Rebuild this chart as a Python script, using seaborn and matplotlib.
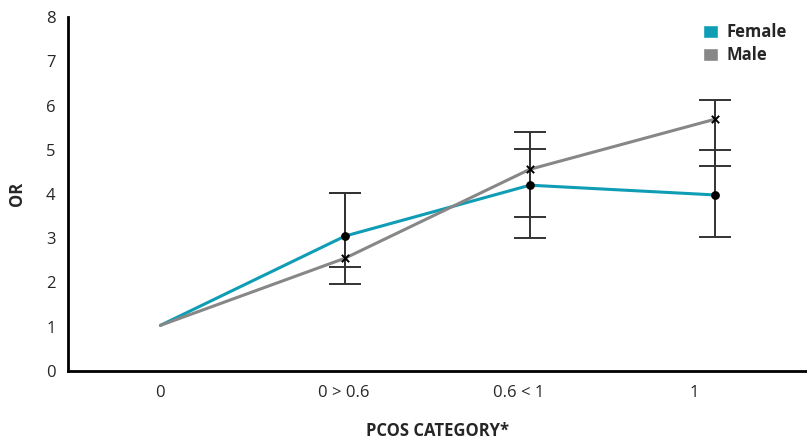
import numpy as np
import pandas as pd
import matplotlib
matplotlib.use("Agg")
import matplotlib.pyplot as plt
from matplotlib.patches import Patch
import seaborn as sns

# Data
categories = ["0", "0 > 0.6", "0.6 < 1", "1"]
female_or = [1.03, 3.05, 4.20, 3.98]
female_lo = [1.03, 2.35, 3.00, 3.03]
female_hi = [1.03, 4.02, 5.02, 5.00]
male_or = [1.03, 2.55, 4.56, 5.69]
male_lo = [1.03, 1.97, 3.48, 4.63]
male_hi = [1.03, 4.02, 5.40, 6.12]

FEMALE = "#0e9db5"
MALE = "#878787"

sns.set_style("white")
plt.rcParams["font.family"] = ["Open Sans", "DejaVu Sans"]
plt.rcParams["font.size"] = 12

df = pd.DataFrame({
    "pos": list(range(len(categories))) * 2,
    "OR": female_or + male_or,
    "sex": ["Female"] * len(categories) + ["Male"] * len(categories),
})

fig = plt.figure(figsize=(8.07, 4.40), dpi=100)
ax = fig.add_axes([0.0843, 0.157, 0.9157, 0.804])

sns.lineplot(data=df, x="pos", y="OR", hue="sex",
             palette={"Female": FEMALE, "Male": MALE},
             linewidth=2.2, legend=False, ax=ax)

# error bars (drawn after the lines, in dark grey)
x = np.arange(len(categories))
for vals, lo, hi in [(female_or, female_lo, female_hi), (male_or, male_lo, male_hi)]:
    v = np.array(vals)
    err = np.vstack([v - np.array(lo), np.array(hi) - v])
    ax.errorbar(x[1:], v[1:], yerr=err[:, 1:], fmt="none", ecolor="#333333",
                elinewidth=1.4, capsize=11.5, capthick=1.4, zorder=3)

ax.scatter(x[1:], female_or[1:], s=28, color="black", zorder=4)
ax.scatter(x[1:], male_or[1:], s=28, marker="x", color="black",
           linewidths=1.4, zorder=4)

ax.set_xlim(-0.5, 3.5)
ax.set_ylim(0, 8)
ax.set_yticks(range(0, 9))

# tick marks at the category boundaries, labels roughly centred between them
bounds = [-0.5, 0.505, 1.455, 2.385, 3.31]
mids = [0.0, 0.99, 1.94, 2.89]
ax.set_xticks(bounds, minor=True)
ax.set_xticks(mids)
ax.set_xticklabels(categories)
ax.tick_params(axis="x", which="major", length=0, pad=10)
ax.tick_params(axis="x", which="minor", length=5, width=2, direction="out")
ax.tick_params(axis="y", length=5, width=2, direction="out", pad=4)
ax.tick_params(labelsize=12)

for side in ["top", "right"]:
    ax.spines[side].set_visible(False)
for side in ["left", "bottom"]:
    ax.spines[side].set_linewidth(2)
    ax.spines[side].set_color("black")

ax.set_xlabel("PCOS CATEGORY*", fontweight="bold", fontsize=12, labelpad=15)
ax.set_ylabel("OR", fontweight="bold", fontsize=12, labelpad=14)

handles = [Patch(facecolor=FEMALE, label="Female"),
           Patch(facecolor=MALE, label="Male")]
ax.legend(handles=handles, loc="upper right", bbox_to_anchor=(0.993, 1.025),
          frameon=False, handlelength=0.9, handleheight=0.9,
          handletextpad=0.5, labelspacing=0.3,
          prop={"weight": "bold", "size": 12})

fig.savefig("out.png", dpi=100)
